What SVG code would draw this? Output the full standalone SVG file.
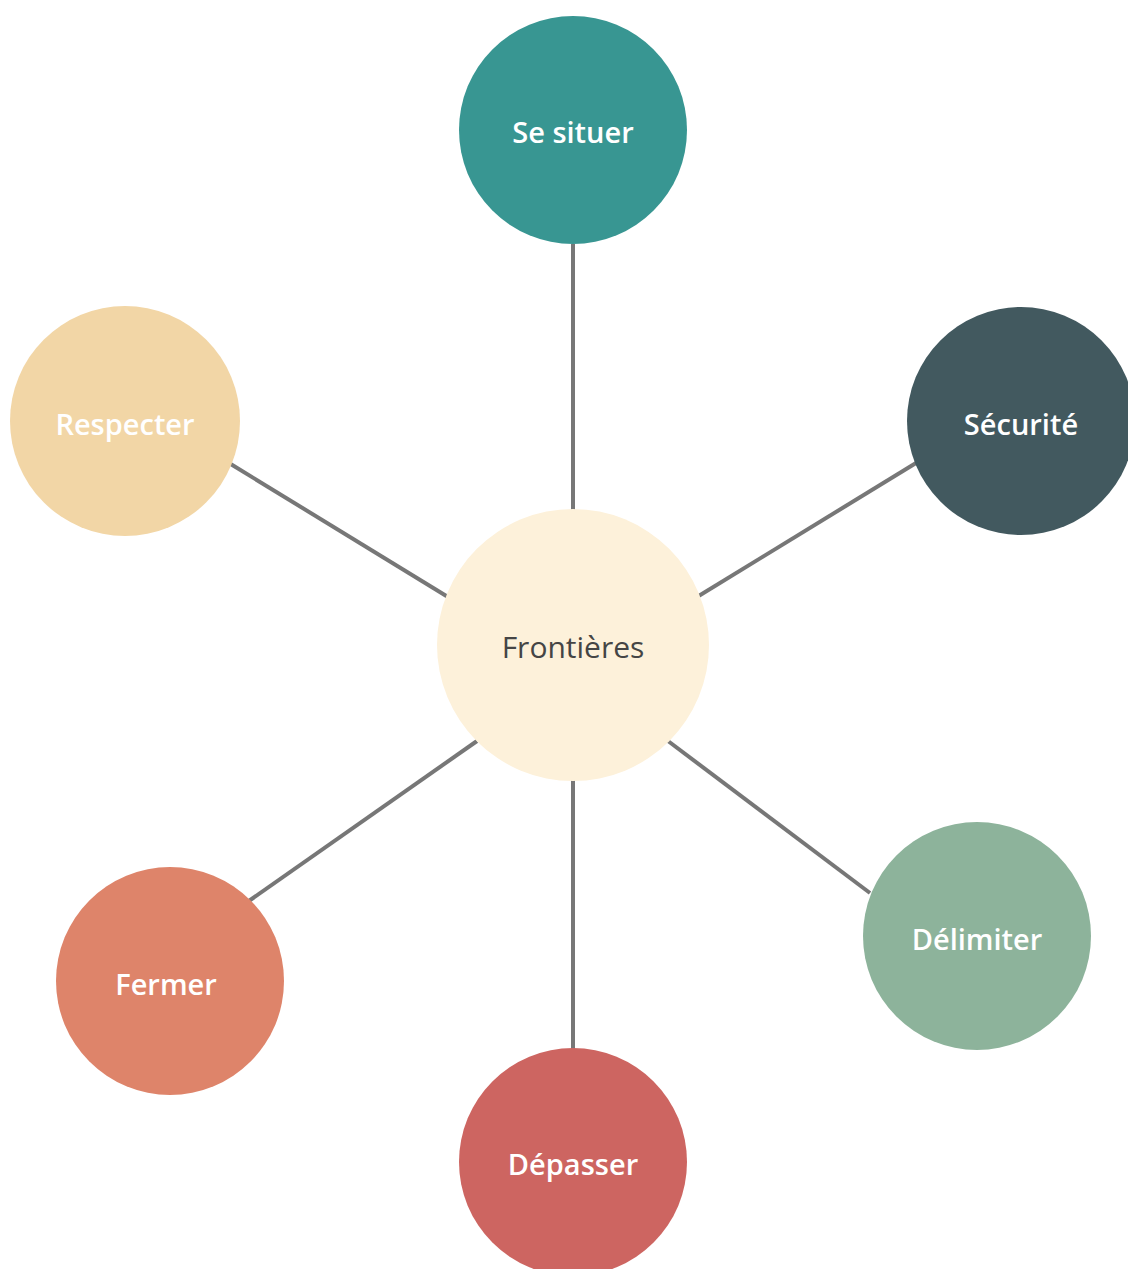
<svg xmlns="http://www.w3.org/2000/svg" width="1128" height="1269" viewBox="0 0 1128 1269">
<style>
.lbl{font-family:"Open Sans","Noto Sans",sans-serif;font-size:29px;font-weight:600;fill:#ffffff;text-anchor:middle;dominant-baseline:central}
.center{font-family:"Open Sans","Noto Sans",sans-serif;font-size:30px;font-weight:400;fill:#454545;text-anchor:middle;dominant-baseline:central}
.conn{stroke:#777777;stroke-width:4;fill:none}
</style>
<rect width="1128" height="1269" fill="#ffffff"/>
<g id="connectors">
<line class="conn" x1="573" y1="244" x2="573" y2="513"/>
<line class="conn" x1="229" y1="463" x2="448" y2="597"/>
<line class="conn" x1="916" y1="463" x2="697" y2="597"/>
<line class="conn" x1="246" y1="903" x2="477" y2="741"/>
<line class="conn" x1="870" y1="893" x2="668" y2="741"/>
<line class="conn" x1="573" y1="778" x2="573" y2="1050"/>
</g>
<g id="node-frontieres">
<circle cx="573" cy="645" r="136" fill="#FDF1DA"/>
<text class="center" x="573" y="646">Frontières</text>
</g>
<g id="node-se-situer">
<circle cx="573" cy="130" r="114" fill="#389692"/>
<text class="lbl" x="573" y="131">Se situer</text>
</g>
<g id="node-respecter">
<circle cx="125" cy="421" r="115" fill="#F2D6A6"/>
<text class="lbl" x="125" y="423">Respecter</text>
</g>
<g id="node-securite">
<circle cx="1021" cy="421" r="114" fill="#42595F"/>
<text class="lbl" x="1021" y="423">Sécurité</text>
</g>
<g id="node-fermer">
<circle cx="170" cy="981" r="114" fill="#DE846A"/>
<text class="lbl" x="166" y="983">Fermer</text>
</g>
<g id="node-delimiter">
<circle cx="977" cy="936" r="114" fill="#8DB39B"/>
<text class="lbl" x="977" y="938">Délimiter</text>
</g>
<g id="node-depasser">
<circle cx="573" cy="1162" r="114" fill="#CD6561"/>
<text class="lbl" x="573" y="1163">Dépasser</text>
</g>
</svg>
